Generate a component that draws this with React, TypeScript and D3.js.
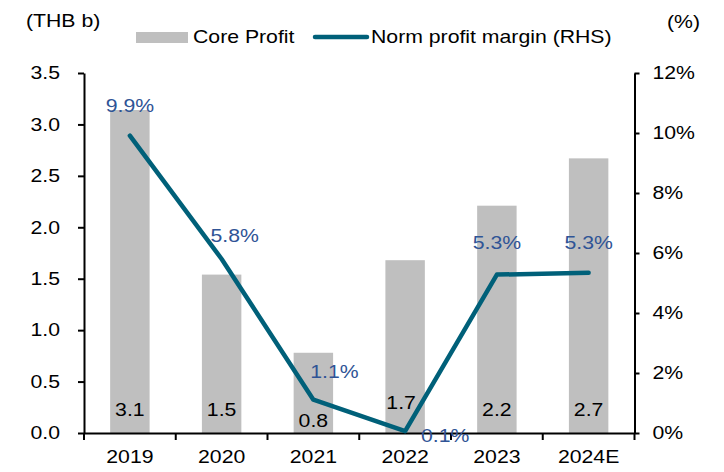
import React, { useEffect, useRef } from "react";
import * as d3 from "d3";

const years = ["2019", "2020", "2021", "2022", "2023", "2024E"];
const coreProfit = [3.14, 1.54, 0.78, 1.68, 2.21, 2.67];
const coreProfitLabels = ["3.1", "1.5", "0.8", "1.7", "2.2", "2.7"];
const normMargin = [0.0991, 0.058, 0.0111, 0.0006, 0.0528, 0.0534];
const marginLabels = ["9.9%", "5.8%", "1.1%", "0.1%", "5.3%", "5.3%"];
const leftTicks = [0, 0.5, 1, 1.5, 2, 2.5, 3, 3.5];
const rightTicks = [0, 0.02, 0.04, 0.06, 0.08, 0.1, 0.12];

// hand placed label nudges (Excel-style custom positions)
const marginLabelNudge = [
  [0, -30],
  [13, -23],
  [21, -28],
  [40, 4],
  [0, -32],
  [0, -30],
];
const barLabelNudge = [
  [0, 0],
  [0, 0],
  [0, 11],
  [-4, -7],
  [0, 0],
  [0, 0],
];

const W = 724;
const H = 472;
const FONT = "'Liberation Sans', Arial, sans-serif";
const FS = 18;
const STRETCH = 1.18; // text in the reference is a bit wider than tall

const App = () => {
  const svgRef = useRef<SVGSVGElement>(null);

  useEffect(() => {
    document.body.style.margin = "0";
    const svg = d3.select(svgRef.current);
    svg.selectAll("*").remove();

    const left = 84;
    const right = 634.5;
    const top = 73;
    const bottom = 433;

    const x = d3.scaleBand().domain(years).range([left, right]).padding(0);
    const yL = d3.scaleLinear().domain([0, 3.5]).range([bottom, top]);
    const yR = d3.scaleLinear().domain([0, 0.12]).range([bottom, top]);
    const barW = x.step() * 0.43;
    const cx = (d: string) => (x(d) as number) + x.bandwidth() / 2;

    const g = svg.append("g").attr("font-family", FONT);

    // bars
    g.selectAll(".bar")
      .data(years)
      .join("rect")
      .attr("x", (d) => cx(d) - barW / 2)
      .attr("y", (d, i) => yL(coreProfit[i]))
      .attr("width", barW)
      .attr("height", (d, i) => bottom - yL(coreProfit[i]))
      .attr("fill", "#BFBFBF");

    // bar labels
    g.selectAll(".barlabel")
      .data(years)
      .join("text")
      .attr("x", (d, i) => cx(d) + barLabelNudge[i][0])
      .attr("y", (d, i) => 410 + barLabelNudge[i][1])
      .attr("dy", "0.35em")
      .attr("text-anchor", "middle")
      .attr("font-size", FS)
      .attr("fill", "#000")
      .text((d, i) => coreProfitLabels[i]);

    // axes
    const axisL = d3.axisLeft(yL).tickValues(leftTicks).tickFormat(d3.format(".1f")).tickSize(6).tickSizeOuter(0);
    const gl = g.append("g").attr("transform", `translate(${left},0)`).call(axisL);
    const axisR = d3.axisRight(yR).tickValues(rightTicks).tickFormat(d3.format(".0%")).tickSize(5).tickSizeOuter(0);
    const gr = g.append("g").attr("transform", `translate(${right},0)`).call(axisR);
    const axisB = d3.axisBottom(x).tickSize(0).tickSizeOuter(0);
    const gb = g.append("g").attr("transform", `translate(0,${bottom})`).call(axisB);

    // category boundary ticks on x axis
    const bounds = years.map((d) => x(d) as number).concat([right]);
    gb.selectAll(".bound")
      .data(bounds)
      .join("line")
      .attr("x1", (d) => d)
      .attr("x2", (d) => d)
      .attr("y1", 0)
      .attr("y2", 7)
      .attr("stroke", "#000")
      .attr("stroke-width", 2);

    [gl, gr, gb].forEach((a) => {
      a.selectAll(".domain").attr("stroke", "#000").attr("stroke-width", 2);
      a.selectAll(".tick line").attr("stroke", "#000").attr("stroke-width", 2);
      a.selectAll("text").attr("font-family", FONT).attr("font-size", FS).attr("fill", "#000");
    });
    gl.selectAll(".tick text").attr("x", -24);
    gr.selectAll(".tick text").attr("x", 18);
    gb.selectAll(".tick text").attr("y", 17);

    // margin line
    const line = d3
      .line<number>()
      .x((d, i) => cx(years[i]))
      .y((d) => yR(d));
    g.append("path")
      .datum(normMargin)
      .attr("d", line)
      .attr("fill", "none")
      .attr("stroke", "#006079")
      .attr("stroke-width", 4.5)
      .attr("stroke-linejoin", "round")
      .attr("stroke-linecap", "round");

    g.selectAll(".mlabel")
      .data(years)
      .join("text")
      .attr("x", (d, i) => cx(d) + marginLabelNudge[i][0])
      .attr("y", (d, i) => yR(normMargin[i]) + marginLabelNudge[i][1])
      .attr("dy", "0.35em")
      .attr("text-anchor", "middle")
      .attr("font-size", FS)
      .attr("fill", "#2F5496")
      .text((d, i) => marginLabels[i]);

    // axis titles
    g.append("text").attr("x", 26).attr("y", 21).attr("dy", "0.35em").attr("font-size", FS).text("(THB b)");
    g.append("text").attr("x", 700).attr("y", 22).attr("dy", "0.35em").attr("text-anchor", "end").attr("font-size", FS).text("(%)");

    // legend
    g.append("rect").attr("x", 136).attr("y", 32).attr("width", 52).attr("height", 11).attr("fill", "#BFBFBF");
    g.append("text").attr("x", 193).attr("y", 37).attr("dy", "0.35em").attr("font-size", FS).text("Core Profit");
    g.append("line")
      .attr("x1", 315).attr("x2", 367).attr("y1", 37).attr("y2", 37)
      .attr("stroke", "#006079").attr("stroke-width", 4.5).attr("stroke-linecap", "round");
    g.append("text").attr("x", 371).attr("y", 37).attr("dy", "0.35em").attr("font-size", FS).text("Norm profit margin (RHS)");

    // widen every label horizontally around its anchor point
    svg.selectAll<SVGTextElement, unknown>("text").each(function () {
      const t = d3.select(this);
      const tx = +(t.attr("x") || 0);
      const ty = +(t.attr("y") || 0);
      t.attr("x", 0).attr("y", 0).attr("transform", `translate(${tx},${ty}) scale(${STRETCH},1)`);
    });
  }, []);

  return <svg ref={svgRef} width={W} height={H} style={{ display: "block", background: "#fff" }} />;
};

export default App;
